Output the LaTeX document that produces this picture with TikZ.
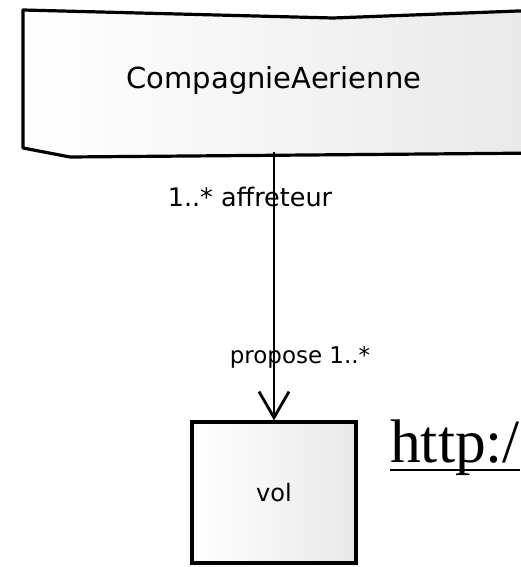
\documentclass[tikz,border=0pt]{standalone}
\usepackage{fontspec}
\setmainfont{Liberation Serif}
\newfontfamily\sketchfont{DejaVu Sans}
\usetikzlibrary{arrows.meta,positioning,calc}

\tikzset{
  classbox/.style={line width=3.2pt,left color=white,right color=black!9},
  rolelabel/.style={font=\sketchfont,inner sep=0pt}
}

\begin{document}
\begin{tikzpicture}[x=1pt,y=-1pt]
\useasboundingbox (0,0) rectangle (520,567);

% class CompagnieAerienne (runs off the right edge)
\fill[left color=white,right color=black!9] (23,10) -- (333,18) -- (545,10) -- (545,153) -- (70,157) -- (23,148) -- cycle;
\draw[line width=3.2pt,line join=round] (545,10) -- (333,18) -- (23,10) -- (23,148) -- (70,157) -- (545,153);
\node[minimum height=142pt,inner sep=0pt] (C) at (274,81) {\sketchfont\fontsize{29}{32}\selectfont CompagnieAerienne};

% class vol
\node[classbox,draw,rectangle,minimum width=164pt,minimum height=141pt,inner sep=0pt] (V) at (274,492.5)
  {\sketchfont\fontsize{24}{27}\selectfont vol};

% association
\draw[line width=2.8pt,-{Straight Barb[length=26pt,width=30pt,line width=2.8pt]}] (C.south) -- (V.north)
  node[rolelabel,pos=0.168,xshift=-24pt] {\fontsize{25.5}{28}\selectfont 1..* affreteur}
  node[rolelabel,pos=0.765,xshift=26pt] {\fontsize{23}{26}\selectfont propose 1..*};

% link text
\node[anchor=base west,inner sep=0pt,font=\fontsize{61.5}{64}\selectfont] (url) at (390,462) {http:/};
\draw[line width=2.6pt] ([yshift=-8pt]url.base west) -- ([yshift=-8pt]url.base east);
\end{tikzpicture}
\end{document}
